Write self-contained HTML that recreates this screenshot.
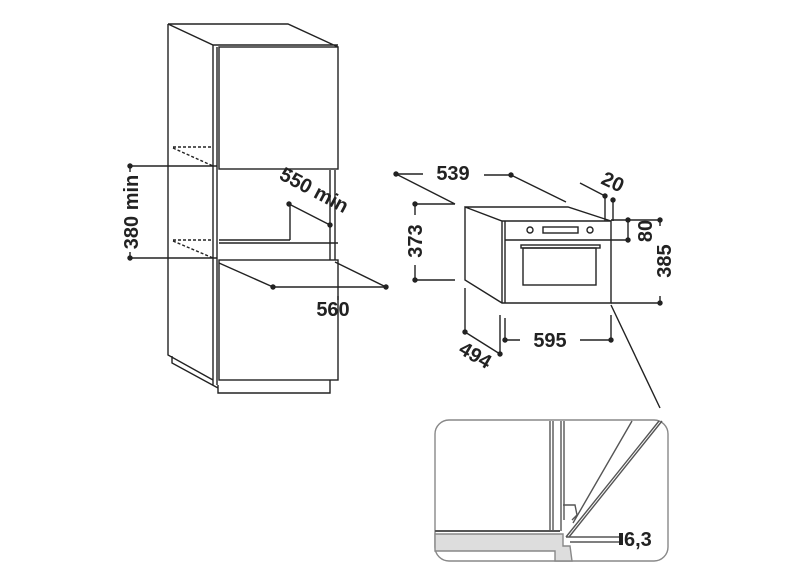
<!DOCTYPE html><html><head><style>body{margin:0;background:#fff}svg{display:block}text{font-family:"Liberation Sans",sans-serif;font-weight:bold;fill:#222}</style></head><body>
<svg width="786" height="587" viewBox="0 0 786 587" fill="none" stroke="#222" stroke-width="1.4">
<path d="M168,24 L288,24 L338,47 M168,24 L213,45 L338,45 M168,24 L168,355 L213,380 M213,45 L213,385 M217,47 L217,385 M172,356 L172,363 L218,388 M218,385 L218,393 L330,393 L330,380"/>
<rect x="219" y="47" width="119" height="122"/>
<rect x="219" y="260" width="119" height="120"/>
<path d="M219,240 L290,240 M290,240 L290,205 M330,170 L330,260 M335,170 L335,260 M290,169 L290,173 M219,243 L338,243"/>
<path stroke-dasharray="3,2" d="M173,147 L213,147 M173,148 L213,166 M173,240 L213,240 M173,241 L213,258"/>
<path d="M130,166 L217,166 M130,258 L217,258 M130,166 L130,172 M130,252 L130,258 M289,204 L330,225 M273,287 L386,287 M219,263 L273,287 M335,262 L386,287 M338,300 L338,296"/>
<g fill="#222" stroke="none"><circle cx="130" cy="166" r="2.7"/><circle cx="130" cy="258" r="2.7"/><circle cx="289" cy="204" r="2.7"/><circle cx="330" cy="225" r="2.7"/><circle cx="273" cy="287" r="2.7"/><circle cx="386" cy="287" r="2.7"/>
<circle cx="396" cy="174" r="2.7"/><circle cx="511" cy="175" r="2.7"/><circle cx="415" cy="204" r="2.7"/><circle cx="415" cy="280" r="2.7"/><circle cx="605" cy="196" r="2.7"/><circle cx="613" cy="200" r="2.7"/><circle cx="628" cy="220" r="2.7"/><circle cx="628" cy="240" r="2.7"/><circle cx="660" cy="220" r="2.7"/><circle cx="660" cy="303" r="2.7"/><circle cx="505" cy="340" r="2.7"/><circle cx="611" cy="340" r="2.7"/><circle cx="465" cy="332" r="2.7"/><circle cx="500" cy="354" r="2.7"/></g>
<text font-size="20" stroke="none" transform="translate(138,212) rotate(-90)" text-anchor="middle">380 min</text>
<text font-size="20" stroke="none" transform="translate(311,196) rotate(28)" text-anchor="middle">550 min</text>
<text x="333" y="316" font-size="20" stroke="none" text-anchor="middle">560</text>
<path d="M465,207 L568,207 L611,221 M465,207 L502,221 L611,221 L611,303 L502,303 L465,280 Z M502,221 L502,303 M505,221 L505,303 M505,240 L611,240"/>
<circle cx="530" cy="230" r="3"/><circle cx="590" cy="230" r="3"/><rect x="543" y="227" width="35" height="6"/>
<rect x="521" y="245" width="79" height="3"/><rect x="523" y="248" width="73" height="37"/>
<path d="M396,174 L423,174 M484,175 L511,175 M396,174 L455,204 M511,175 L566,202 M415,204 L455,204 M415,280 L455,280 M415,204 L415,215 M415,265 L415,280 M580,183 L605,196 M605,196 L605,221 M613,200 L613,221 M611,220 L660,220 M611,240 L628,240 M628,220 L628,240 M660,220 L660,226 M660,296 L660,303 M611,303 L660,303 M500,315 L500,354 M505,318 L505,340 M611,315 L611,340 M505,340 L520,340 M580,340 L611,340 M465,288 L465,332 M465,332 L500,354 M611,305 L660,408"/>
<text x="453" y="180" font-size="20" stroke="none" text-anchor="middle">539</text>
<text font-size="20" stroke="none" transform="translate(422,241) rotate(-90)" text-anchor="middle">373</text>
<text font-size="20" stroke="none" transform="translate(610,188) rotate(25)" text-anchor="middle">20</text>
<text font-size="20" stroke="none" transform="translate(652,231) rotate(-90)" text-anchor="middle">80</text>
<text font-size="20" stroke="none" transform="translate(671,261) rotate(-90)" text-anchor="middle">385</text>
<text x="550" y="347" font-size="20" stroke="none" text-anchor="middle">595</text>
<text font-size="20" stroke="none" transform="translate(472,361) rotate(30)" text-anchor="middle">494</text>
<rect x="435" y="420" width="233" height="141" rx="14" stroke="#888"/>
<path d="M435,534 L563,534 L563,546 L570,546 L572,561 L555,561 L555,551 L435,551 Z" fill="#ddd" stroke="#888"/>
<path d="M435,531 L560,531" stroke="#555" stroke-width="2"/>
<path d="M550,421 L550,531 M553,421 L553,531 M561,421 L561,531 M564,421 L564,520 M566,537 L659,421 M569,537 L662,421 M573,523 L632,421 M563,505 L575,505 L577,515 L572,520 M566,537 L620,537 M570,542 L620,542" stroke="#555"/>
<rect x="619" y="533" width="4" height="12" fill="#222" stroke="none"/>
<text x="624" y="546" font-size="20" stroke="none">6,3</text>
</svg></body></html>
